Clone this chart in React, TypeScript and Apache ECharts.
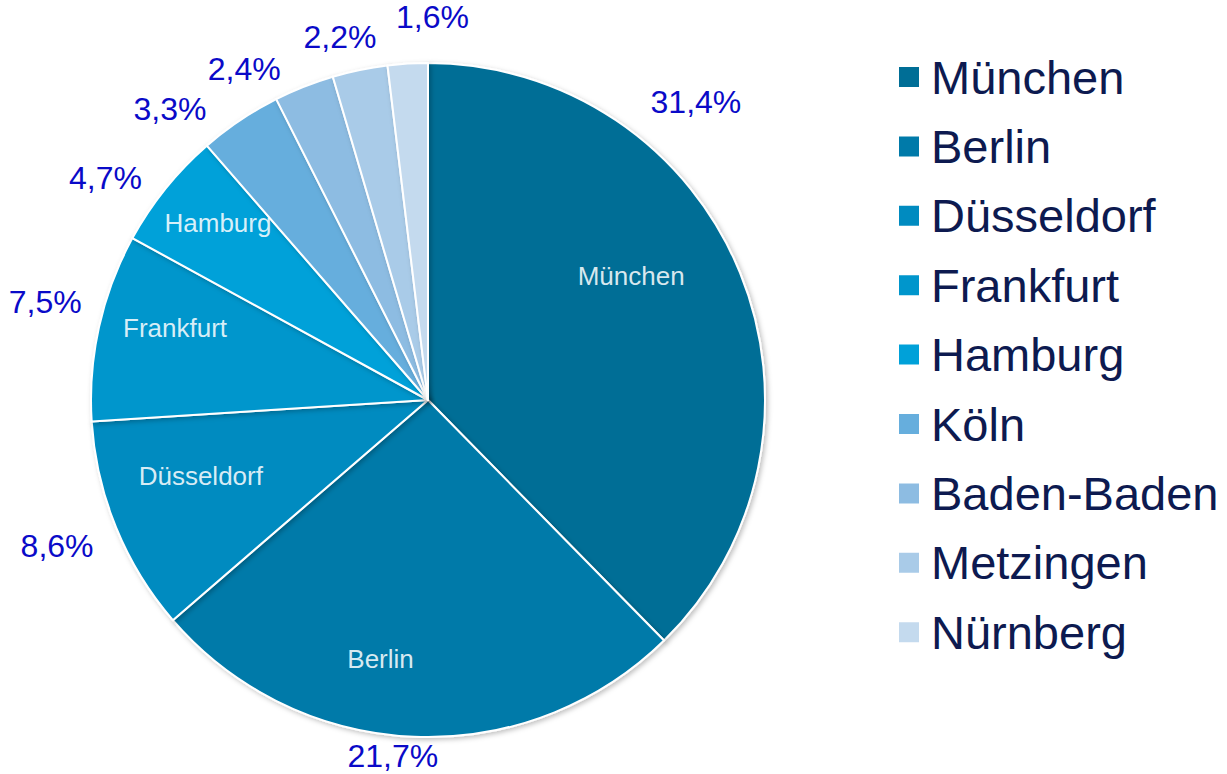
import React, { useEffect, useRef } from "react";
import * as echarts from "echarts";

const CITIES = ["München", "Berlin", "Düsseldorf", "Frankfurt", "Hamburg", "Köln", "Baden-Baden", "Metzingen", "Nürnberg"];
const SHARES = [31.4, 21.7, 8.6, 7.5, 4.7, 3.3, 2.4, 2.2, 1.6];
const INNER_LABELED = ["München", "Berlin", "Düsseldorf", "Frankfurt", "Hamburg"];

const COLORS = ["#006E96", "#007AA9", "#008BC0", "#0096CC", "#00A1D9", "#66AEDD", "#8DBCE2", "#A9CBE8", "#C4DAEE"];

// label fine-tuning offsets (px) relative to the mid-angle anchor
const OUTER_DX = [-94, -19, -9, -1, -18, -40, -40, -9, 28];
const OUTER_DY = [-150, -35, -2, -13, 23, 34, 33, 20, 7];
const INNER_DX = [-31, -37, 7, -6, -13, 0, 0, 0, 0];
const INNER_DY = [-28, 6, -20, -17, -18, 0, 0, 0, 0];

const fmt = (v: number) => v.toFixed(1).replace(".", ",") + "%";

export default function App() {
  const ref = useRef<HTMLDivElement>(null);
  useEffect(() => {
    if (!ref.current) return;
    const chart = echarts.init(ref.current, null, { renderer: "svg" });
    const center = [428, 400];
    const font = "'Liberation Sans', Arial, sans-serif";
    chart.setOption({
      animation: false,
      backgroundColor: "#ffffff",
      legend: {
        orient: "vertical",
        left: 892,
        top: 47,
        data: CITIES,
        icon: "rect",
        itemWidth: 22,
        itemHeight: 22,
        itemGap: 19.4,
        selectedMode: false,
        textStyle: {
          fontSize: 47,
          lineHeight: 50,
          color: "#0D1A50",
          fontFamily: font,
          padding: [0, 0, 0, 6],
        },
      },
      series: [
        {
          type: "pie",
          name: "main",
          center,
          radius: [0, 337],
          startAngle: 90,
          clockwise: true,
          silent: true,
          avoidLabelOverlap: false,
          label: { show: false },
          labelLine: { show: false },
          itemStyle: {
            borderColor: "#ffffff",
            borderWidth: 2,
            shadowBlur: 5,
            shadowOffsetX: 2,
            shadowOffsetY: 2,
            shadowColor: "rgba(0,0,0,0.25)",
          },
          data: CITIES.map((c, i) => ({ name: c, value: SHARES[i], itemStyle: { color: COLORS[i] } })),
        },
        {
          type: "pie",
          name: "inner",
          center,
          radius: [245, 255],
          startAngle: 90,
          clockwise: true,
          silent: true,
          avoidLabelOverlap: false,
          itemStyle: { color: "rgba(0,0,0,0)", borderWidth: 0 },
          label: {
            show: true,
            position: "inside",
            formatter: "{b}",
            color: "rgba(255,255,255,0.85)",
            fontSize: 26,
            fontFamily: font,
          },
          labelLine: { show: false },
          labelLayout: (p: any) => ({ dx: INNER_DX[p.dataIndex], dy: INNER_DY[p.dataIndex] }),
          data: CITIES.map((c, i) => ({
            name: c,
            value: SHARES[i],
            label: { show: INNER_LABELED.includes(c) },
          })),
        },
        {
          type: "pie",
          name: "outer",
          center,
          radius: [383, 393],
          startAngle: 90,
          clockwise: true,
          silent: true,
          avoidLabelOverlap: false,
          itemStyle: { color: "rgba(0,0,0,0)", borderWidth: 0 },
          label: {
            show: true,
            position: "inside",
            formatter: (p: any) => fmt(p.value),
            color: "#0A0AC8",
            fontSize: 32,
            fontFamily: font,
          },
          labelLine: { show: false },
          labelLayout: (p: any) => ({ dx: OUTER_DX[p.dataIndex], dy: OUTER_DY[p.dataIndex] }),
          data: CITIES.map((c, i) => ({ name: c, value: SHARES[i] })),
        },
      ],
    });
    return () => chart.dispose();
  }, []);
  return <div ref={ref} style={{ position: "absolute", left: 0, top: 0, width: 1227, height: 774 }} />;
}
